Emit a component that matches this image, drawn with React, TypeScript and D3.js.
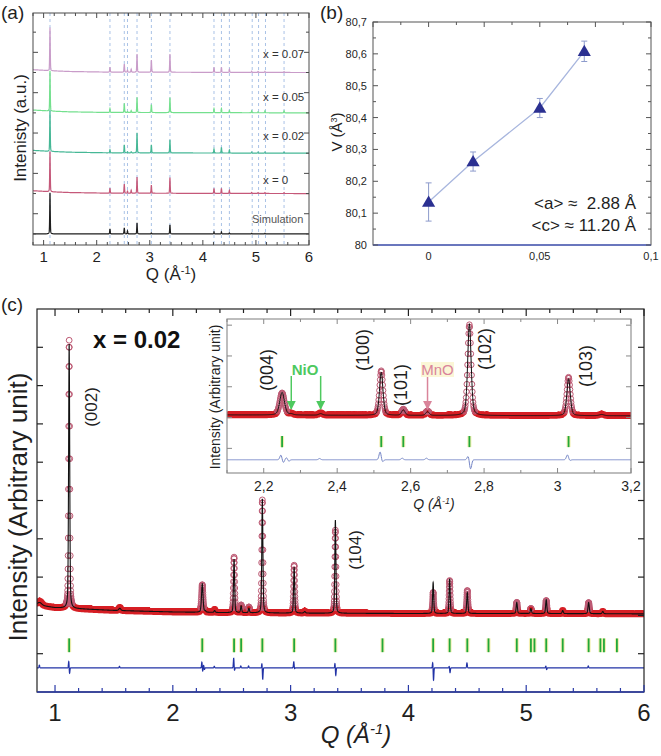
import React from "react";
import * as d3 from "d3";

const FF = "'Liberation Sans', Arial, Helvetica, sans-serif";

// ---------------- (a) data ----------------
const aXTickLabels = [1, 2, 3, 4, 5, 6];
const aPeakQ = [1.12, 2.25, 2.52, 2.58, 2.65, 2.76, 3.03, 3.38, 4.21, 4.35, 4.5, 4.92, 5.04, 5.17, 5.53];
const aH007 = [2.14, 0.25, 0.4, 0.1, 0.15, 0.9, 0.6, 0.9, 0.25, 0.25, 0.15, 0.06, 0.05, 0.06, 0.05];
const aH005 = [2.0, 0.2, 0.45, 0.05, 0.1, 0.75, 0.4, 0.75, 0.2, 0.2, 0.1, 0.1, 0.05, 0.1, 0.1];
const aH002 = [2.04, 0.15, 0.4, 0.05, 0.05, 1.0, 0.4, 0.65, 0.2, 0.28, 0.15, 0.05, 0.05, 0.05, 0.05];
const aH000 = [2.0, 0.25, 0.45, 0.1, 0.15, 0.8, 0.4, 0.78, 0.25, 0.25, 0.15, 0.05, 0.05, 0.05, 0.05];
const aHSim = [2.04, 0.25, 0.3, 0.15, 0, 0.55, 0.05, 0.45, 0.1, 0.1, 0.05, 0.03, 0, 0.03, 0];
const aDashQ = [1.12, 2.25, 2.52, 2.58, 2.76, 3.03, 3.38, 4.21, 4.35, 4.5, 4.93, 5.05, 5.18, 5.53];
const aLabels = ["x = 0.07", "x = 0.05", "x = 0.02", "x = 0", "Simulation"];
const aOffsets = [8, 6, 4, 2, 0];
const aBgQ = [0.8, 1.0, 1.1, 1.5, 2.2, 6.0];
const aBgOff = [0.14, 0.11, 0.09, 0.05, 0.02, 0];

// ---------------- (b) data ----------------
const bX = [0, 0.02, 0.05, 0.07];
const bV = [80.135, 80.262, 80.43, 80.608];
const bErr = [0.06, 0.03, 0.03, 0.032];
const bYTicks = [80, 80.1, 80.2, 80.3, 80.4, 80.5, 80.6, 80.7];
const bXTicks = [0, 0.05, 0.1];
const bText1 = "<a> ≈  2.88 Å";
const bText2 = "<c> ≈ 11.20 Å";

// ---------------- (c) data ----------------
const cXTickLabels = [1, 2, 3, 4, 5, 6];
const cBgQ = [0.847, 0.9, 1.0, 1.5, 2.0, 2.5, 3.0, 4.0, 5.0, 6.0];
const cBgI = [2.28, 2.25, 2.2, 2.13, 2.09, 2.07, 2.06, 2.05, 2.05, 2.04];
const cPeakQ = [0.87, 1.12, 1.55, 2.25, 2.275, 2.355, 2.52, 2.58, 2.646, 2.76, 3.03, 3.12, 3.38, 4.21, 4.35, 4.5, 4.92, 5.04, 5.17, 5.31, 5.53, 5.65];
const cObsH = [0.1, 7.0, 0.08, 0.72, 0.05, 0.08, 1.45, 0.2, 0.15, 2.95, 1.25, 0.05, 2.17, 0.55, 0.86, 0.6, 0.29, 0.13, 0.34, 0.08, 0.29, 0.06];
const cCalcH = [0.07, 6.9, 0.06, 0.74, 0.03, 0.05, 1.4, 0.18, 0.12, 2.98, 1.2, 0.04, 2.43, 0.81, 0.9, 0.55, 0.29, 0.13, 0.36, 0.08, 0.29, 0.06];
const cWidth = [0.04, 0.011, 0.02, 0.015, 0.012, 0.012, 0.011, 0.011, 0.011, 0.011, 0.011, 0.015, 0.011, 0.011, 0.011, 0.012, 0.012, 0.012, 0.012, 0.012, 0.013, 0.013];
const cDiffQ = [0.87, 1.12, 1.55, 2.25, 2.265, 2.355, 2.52, 2.58, 2.646, 2.76, 3.03, 3.38, 4.21, 4.35, 4.5, 5.17, 5.53];
const cDiffUp = [0.07, 0.18, 0.04, 0.16, 0.07, 0.04, 0.26, 0.05, 0.05, 0.13, 0.16, 0.13, 0.16, 0.05, 0.13, 0.05, 0.05];
const cDiffDown = [0, 0.16, 0, 0.1, 0.05, 0, 0.08, 0, 0, 0.31, 0.03, 0.21, 0.34, 0.13, 0, 0.05, 0];
const cDiffLevel = 0.63;
const cGreenQ = [1.12, 2.25, 2.52, 2.58, 2.76, 3.03, 3.38, 3.78, 4.21, 4.35, 4.5, 4.68, 4.92, 5.04, 5.07, 5.17, 5.31, 5.53, 5.63, 5.66, 5.77];
const cGreenRange = [1.04, 1.4];
const iXTicks = [2.2, 2.4, 2.6, 2.8, 3.0, 3.2];
const iXTickLabels = ["2,2", "2,4", "2,6", "2,8", "3", "3,2"];
const iHkl = ["(004)", "(100)", "(101)", "(102)", "(103)"];
const cHkl = ["(002)", "(104)"];
const iNiOQ = [2.275, 2.355];
const iMnOQ = [2.646];

function pv(dx: number, f: number, eta = 0.35): number {
  const t = 4 * (dx / f) * (dx / f);
  return eta / (1 + t) + (1 - eta) * Math.exp(-Math.LN2 * t);
}
function gauss(dx: number, f: number): number {
  const t = 4 * (dx / f) * (dx / f);
  return Math.exp(-Math.LN2 * t);
}
function circlePath(pts: number[][], r: number): string {
  const parts: string[] = [];
  for (const [x, y] of pts) {
    parts.push(`M${(x + r).toFixed(2)},${y.toFixed(2)}a${r},${r} 0 1,0 ${-2 * r},0a${r},${r} 0 1,0 ${2 * r},0`);
  }
  return parts.join("");
}

export default function App() {
  // ---------- (a) ----------
  const ax = d3.scaleLinear().domain([0.8, 6]).range([33, 309]);
  const ay = d3.scaleLinear().domain([-0.55, 10.95]).range([245, 13]);
  const aBg = d3.scaleLinear().domain(aBgQ).range(aBgOff).clamp(true);
  const qa = d3.range(0, 2601).map((k) => 0.8 + k * 0.002);
  const aHeights = [aH007, aH005, aH002, aH000, aHSim];
  const aColors = ["#c99cc9", "#74e08e", "#46b896", "#c55879", "#1e1e1e"];
  const aLine = d3.line<number[]>().x((d) => ax(d[0])).y((d) => ay(d[1]));
  const aPaths = aHeights.map((h, si) =>
    aLine(
      qa.map((q) => [
        q,
        aOffsets[si] + (si < 4 ? aBg(q) : 0) + d3.sum(aPeakQ, (p, i) => h[i] * pv(q - p, 0.012)),
      ])
    )
  );
  const aLabelPos = [
    [263, 58],
    [263, 101],
    [263, 140],
    [263, 184],
    [252, 223],
  ];
  const aXT = d3.range(4, 31).map((k) => k / 5);
  const aYT = d3.range(0, 11);

  // ---------- (b) ----------
  const bx = d3.scaleLinear().domain([-0.025, 0.1]).range([373, 651]);
  const by = d3.scaleLinear().domain([80, 80.7]).range([245, 22]);
  const bLine = d3.line<number>().x((_, i) => bx(bX[i])).y((v) => by(v));
  const tri = d3.symbol().type(d3.symbolTriangle).size(75)() || "";
  const bYT = d3.range(0, 15).map((k) => 80 + k * 0.05);
  const bTopT = d3.range(-2, 9).map((k) => k * 0.0125);
  const fmtB = (v: number) => (Math.abs(v - Math.round(v)) < 1e-9 ? String(Math.round(v)) : d3.format(".1f")(v).replace(".", ","));
  const fmtBx = (v: number) => (v === 0 ? "0" : String(+v.toFixed(2)).replace(".", ","));

  // ---------- (c) ----------
  const cx = d3.scaleLinear().domain([0.847, 6]).range([37, 644]);
  const cy = d3.scaleLinear().domain([0, 10]).range([692, 309]);
  const ix = d3.scaleLinear().domain([2.1, 3.2]).range([227, 631]);
  const iy = d3.scaleLinear().domain([0.2, 5.2]).range([473, 319]);
  const cBg = d3.scaleLinear().domain(cBgQ).range(cBgI).clamp(true);
  const peakPart = (q: number) => d3.sum(cPeakQ, (p, i) => cObsH[i] * pv(q - p, cWidth[i]));
  const obs = (q: number) => cBg(q) + peakPart(q);
  const calc = (q: number) => cBg(q) + d3.sum(cPeakQ, (p, i) => cCalcH[i] * pv(q - p, cWidth[i]));
  const diff = (q: number) =>
    cDiffLevel +
    d3.sum(cDiffQ, (p, i) => cDiffUp[i] * gauss(q - (p - 0.003), 0.007) - cDiffDown[i] * gauss(q - (p + 0.003), 0.007));

  const qLine = d3.range(0, 10307).map((k) => 0.847 + k * 0.0005);
  const qPts = d3.range(0, 5154).map((k) => 0.847 + k * 0.001);
  const qi = d3.range(0, 1101).map((k) => 2.1 + k * 0.001);
  const lowC = qPts.filter((q) => peakPart(q) < 0.12);
  const highC = qPts.filter((q) => peakPart(q) >= 0.12);
  const cCirclesLow = circlePath(lowC.map((q) => [cx(q), cy(obs(q))]), 2.9);
  const cCirclesHigh = circlePath(highC.map((q) => [cx(q), cy(obs(q))]), 2.9);
  const cCalcPath = d3.line<number>().x((q) => cx(q)).y((q) => cy(calc(q)))(qLine) || "";
  const cDiffPath = d3.line<number>().x((q) => cx(q)).y((q) => cy(diff(q)))(qLine) || "";
  const iLow = qi.filter((q) => peakPart(q) < 0.12);
  const iHigh = qi.filter((q) => peakPart(q) >= 0.12);
  const iCirclesLow = circlePath(iLow.map((q) => [ix(q), iy(obs(q))]), 2.8);
  const iCirclesHigh = circlePath(iHigh.map((q) => [ix(q), iy(obs(q))]), 2.8);
  const iCalcPath = d3.line<number>().x((q) => ix(q)).y((q) => iy(calc(q)))(qi) || "";
  const iDiffPath = d3.line<number>().x((q) => ix(q)).y((q) => iy(diff(q)))(qi) || "";
  const cXT = d3.range(5, 31).map((k) => k / 5);
  const cYT = d3.range(1, 10);
  const iXT = d3.range(21, 33).map((k) => k / 10);
  const iYT = d3.range(1, 6);

  const txt = "#1f1f1f";
  const redC = "#d61e24";
  const mauveC = "#bd5a74";

  return (
    <svg width={661} height={756} viewBox="0 0 661 756" style={{ position: "absolute", left: 0, top: 0, background: "#fff" }} fontFamily={FF}>
      <defs>
        <clipPath id="clipA">
          <rect x={33} y={13} width={276} height={232} />
        </clipPath>
        <clipPath id="clipC">
          <rect x={37} y={309} width={607} height={383} />
        </clipPath>
        <clipPath id="clipI">
          <rect x={227} y={319} width={404} height={154} />
        </clipPath>
        <marker id="arrG" viewBox="0 0 10 10" refX={9} refY={5} markerWidth={6} markerHeight={6} orient="auto">
          <path d="M0,0 L10,5 L0,10 z" fill="#4ec95f" />
        </marker>
        <marker id="arrM" viewBox="0 0 10 10" refX={9} refY={5} markerWidth={6} markerHeight={6} orient="auto">
          <path d="M0,0 L10,5 L0,10 z" fill="#d9849a" />
        </marker>
      </defs>

      {/* ================= (a) ================= */}
      <text x={1} y={19} fontSize={19} fill={txt}>(a)</text>
      <g clipPath="url(#clipA)">
        {aDashQ.map((q, i) => (
          <line key={i} x1={ax(q)} x2={ax(q)} y1={13} y2={245} stroke="#a9c2e6" strokeWidth={1} strokeDasharray="3,3" />
        ))}
        {aPaths.map((p, i) => (
          <path key={i} d={p || ""} fill="none" stroke={aColors[i]} strokeWidth={1.2} />
        ))}
      </g>
      <rect x={33} y={13} width={276} height={232} fill="none" stroke="#4a4a4a" strokeWidth={1} />
      {aXT.map((q, i) => {
        const major = Math.abs(q - Math.round(q)) < 1e-6;
        const L = major ? 5 : 3;
        return (
          <g key={i}>
            <line x1={ax(q)} x2={ax(q)} y1={245} y2={245 - L} stroke="#4a4a4a" />
            <line x1={ax(q)} x2={ax(q)} y1={13} y2={13 + L} stroke="#4a4a4a" />
          </g>
        );
      })}
      {aYT.map((k) => {
        const L = k % 2 === 1 ? 5 : 3;
        return (
          <g key={k}>
            <line x1={33} x2={33 + L} y1={ay(k)} y2={ay(k)} stroke="#4a4a4a" />
            <line x1={309} x2={309 - L} y1={ay(k)} y2={ay(k)} stroke="#4a4a4a" />
          </g>
        );
      })}
      {aXTickLabels.map((t) => (
        <text key={t} x={ax(t)} y={262} fontSize={15} textAnchor="middle" fill={txt}>{t}</text>
      ))}
      <text x={171} y={280} fontSize={17} textAnchor="middle" fill={txt}>
        Q (Å<tspan dy={-6} fontSize={11}>-1</tspan><tspan dy={6}>)</tspan>
      </text>
      <text transform="translate(26,128) rotate(-90)" fontSize={17} textAnchor="middle" fill={txt}>Intenisty (a.u.)</text>
      {aLabels.map((l, i) => (
        <text key={l} x={aLabelPos[i][0]} y={aLabelPos[i][1]} fontSize={i === 4 ? 11 : 11.5} fill={i === 4 ? "#555" : "#333"}>{l}</text>
      ))}

      {/* ================= (b) ================= */}
      <text x={320} y={19} fontSize={19} fill={txt}>(b)</text>
      <rect x={373} y={22} width={278} height={223} fill="none" stroke="#555" strokeWidth={1} />
      <line x1={373} x2={651} y1={245} y2={245} stroke="#5566c4" strokeWidth={1.3} />
      {bYT.map((v, k) => {
        const L = k % 2 === 0 ? 5 : 3;
        return (
          <g key={k}>
            <line x1={373} x2={373 + L} y1={by(v)} y2={by(v)} stroke="#555" />
            <line x1={651} x2={651 - L} y1={by(v)} y2={by(v)} stroke="#555" />
          </g>
        );
      })}
      {bTopT.map((v, k) => (
        <line key={k} x1={bx(v)} x2={bx(v)} y1={22} y2={22 + (k % 2 === 0 ? 5 : 3)} stroke="#555" />
      ))}
      {bYTicks.map((v) => (
        <text key={v} x={367} y={by(v) + 4} fontSize={11} textAnchor="end" fill={txt}>{fmtB(v)}</text>
      ))}
      {bXTicks.map((v) => (
        <text key={v} x={bx(v)} y={260} fontSize={11} textAnchor="middle" fill={txt}>{fmtBx(v)}</text>
      ))}
      <text transform="translate(342,132) rotate(-90)" fontSize={15} textAnchor="middle" fill={txt}>
        V (Å<tspan dy={-5} fontSize={9}>3</tspan><tspan dy={5}>)</tspan>
      </text>
      <path d={bLine(bV) || ""} fill="none" stroke="#a8b6de" strokeWidth={1.3} />
      {bX.map((x, i) => {
        const X = bx(x);
        const y1 = by(bV[i] + bErr[i]);
        const y2 = by(bV[i] - bErr[i]);
        return (
          <g key={i} stroke="#8d9bcc" strokeWidth={1}>
            <line x1={X} x2={X} y1={y1} y2={y2} />
            <line x1={X - 3} x2={X + 3} y1={y1} y2={y1} />
            <line x1={X - 3} x2={X + 3} y1={y2} y2={y2} />
          </g>
        );
      })}
      {bX.map((x, i) => (
        <path key={i} d={tri} transform={`translate(${bx(x)},${by(bV[i]) + 1})`} fill="#2b3091" />
      ))}
      <text x={636} y={209} fontSize={17} textAnchor="end" fill={txt} style={{ whiteSpace: "pre" }}>{bText1}</text>
      <text x={636} y={231} fontSize={17} textAnchor="end" fill={txt} style={{ whiteSpace: "pre" }}>{bText2}</text>

      {/* ================= (c) ================= */}
      <text x={1} y={311} fontSize={19} fill={txt}>(c)</text>
      <g clipPath="url(#clipC)">
        <path d={cCirclesLow} fill="none" stroke={redC} strokeWidth={1.1} />
        <path d={cCirclesHigh} fill="none" stroke={mauveC} strokeWidth={1} />
        <path d={cCalcPath} fill="none" stroke="#111" strokeWidth={1.1} />
        <path d={cDiffPath} fill="none" stroke="#2233a6" strokeWidth={1.2} />
        {cGreenQ.map((q, i) => (
          <g key={i}>
            <line x1={cx(q)} x2={cx(q)} y1={cy(cGreenRange[0])} y2={cy(cGreenRange[1])} stroke="#f3efb0" strokeWidth={4} />
            <line x1={cx(q)} x2={cx(q)} y1={cy(cGreenRange[0])} y2={cy(cGreenRange[1])} stroke="#21a83a" strokeWidth={1.8} />
          </g>
        ))}
      </g>
      <rect x={37} y={309} width={607} height={383} fill="none" stroke="#222" strokeWidth={1.2} />
      <line x1={37} x2={644} y1={692} y2={692} stroke="#2a3aa8" strokeWidth={1.4} />
      {cXT.map((q, i) => {
        const major = Math.abs(q - Math.round(q)) < 1e-6;
        const L = major ? 7 : 4;
        return (
          <g key={i}>
            <line x1={cx(q)} x2={cx(q)} y1={692} y2={692 - L} stroke="#2a3aa8" strokeWidth={1.2} />
            <line x1={cx(q)} x2={cx(q)} y1={309} y2={309 + L} stroke="#222" strokeWidth={1.2} />
          </g>
        );
      })}
      {cYT.map((k) => (
        <g key={k}>
          <line x1={37} x2={43} y1={cy(k)} y2={cy(k)} stroke="#222" strokeWidth={1.2} />
          <line x1={644} x2={638} y1={cy(k)} y2={cy(k)} stroke="#222" strokeWidth={1.2} />
        </g>
      ))}
      {cXTickLabels.map((t) => (
        <text key={t} x={cx(t)} y={721} fontSize={24} textAnchor="middle" fill={txt}>{t}</text>
      ))}
      <text x={356} y={743} fontSize={24} fontStyle="italic" textAnchor="middle" fill={txt}>
        Q (Å<tspan dy={-9} fontSize={15}>-1</tspan><tspan dy={9}>)</tspan>
      </text>
      <text transform="translate(27,507) rotate(-90)" fontSize={26} textAnchor="middle" fill={txt}>Intensity (Arbitrary unit)</text>
      <text x={93} y={348} fontSize={24} fontWeight="bold" fill="#111">x = 0.02</text>
      <text transform="translate(97,407) rotate(-90)" fontSize={17} textAnchor="middle" fill={txt}>{cHkl[0]}</text>
      <text transform="translate(361,550) rotate(-90)" fontSize={17} textAnchor="middle" fill={txt}>{cHkl[1]}</text>

      {/* inset */}
      <rect x={227} y={319} width={404} height={154} fill="#fff" />
      <g clipPath="url(#clipI)">
        <path d={iCirclesLow} fill="none" stroke={redC} strokeWidth={1.1} />
        <path d={iCirclesHigh} fill="none" stroke={mauveC} strokeWidth={1} />
        <path d={iCalcPath} fill="none" stroke="#111" strokeWidth={1} />
        <path d={iDiffPath} fill="none" stroke="#7485c6" strokeWidth={1} />
        {cGreenQ.filter((q) => q > 2.1 && q < 3.2).map((q, i) => (
          <g key={i}>
            <line x1={ix(q)} x2={ix(q)} y1={iy(cGreenRange[0])} y2={iy(cGreenRange[1])} stroke="#f3efb0" strokeWidth={4} />
            <line x1={ix(q)} x2={ix(q)} y1={iy(cGreenRange[0])} y2={iy(cGreenRange[1])} stroke="#21a83a" strokeWidth={1.8} />
          </g>
        ))}
      </g>
      <rect x={227} y={319} width={404} height={154} fill="none" stroke="#888" strokeWidth={1.1} />
      {iXT.map((q, i) => {
        const L = i % 2 === 1 ? 5 : 3;
        return (
          <g key={i}>
            <line x1={ix(q)} x2={ix(q)} y1={473} y2={473 - L} stroke="#888" />
            <line x1={ix(q)} x2={ix(q)} y1={319} y2={319 + L} stroke="#888" />
          </g>
        );
      })}
      {iYT.map((k) => (
        <g key={k}>
          <line x1={227} x2={232} y1={iy(k)} y2={iy(k)} stroke="#888" />
          <line x1={631} x2={626} y1={iy(k)} y2={iy(k)} stroke="#888" />
        </g>
      ))}
      {iXTicks.map((q, i) => (
        <text key={i} x={ix(q)} y={491} fontSize={14} textAnchor="middle" fill={txt}>{iXTickLabels[i]}</text>
      ))}
      <text x={434} y={509} fontSize={14} fontStyle="italic" textAnchor="middle" fill={txt}>
        Q (Å<tspan dy={-5} fontSize={9}>-1</tspan><tspan dy={5}>)</tspan>
      </text>
      <text transform="translate(220,397) rotate(-90)" fontSize={14} textAnchor="middle" fill={txt}>Intensity (Arbitrary unit)</text>
      {[
        [273, 370],
        [369, 350],
        [407, 385],
        [491, 349],
        [592, 366],
      ].map(([x, y], i) => (
        <text key={i} transform={`translate(${x},${y}) rotate(-90)`} fontSize={18} textAnchor="middle" fill={txt}>{iHkl[i]}</text>
      ))}
      <text x={305} y={375} fontSize={15} fontWeight="bold" textAnchor="middle" fill="#4ec95f">NiO</text>
      {iNiOQ.map((q, i) => (
        <line key={i} x1={ix(q)} x2={ix(q)} y1={376} y2={409} stroke="#4ec95f" strokeWidth={1.5} markerEnd="url(#arrG)" />
      ))}
      <rect x={421} y={362} width={33} height={15} fill="#fbf6d6" />
      <text x={437.5} y={375} fontSize={15} textAnchor="middle" fill="#d9849a">MnO</text>
      {iMnOQ.map((q, i) => (
        <line key={i} x1={ix(q)} x2={ix(q)} y1={377} y2={409} stroke="#d9849a" strokeWidth={1.5} markerEnd="url(#arrM)" />
      ))}
    </svg>
  );
}
